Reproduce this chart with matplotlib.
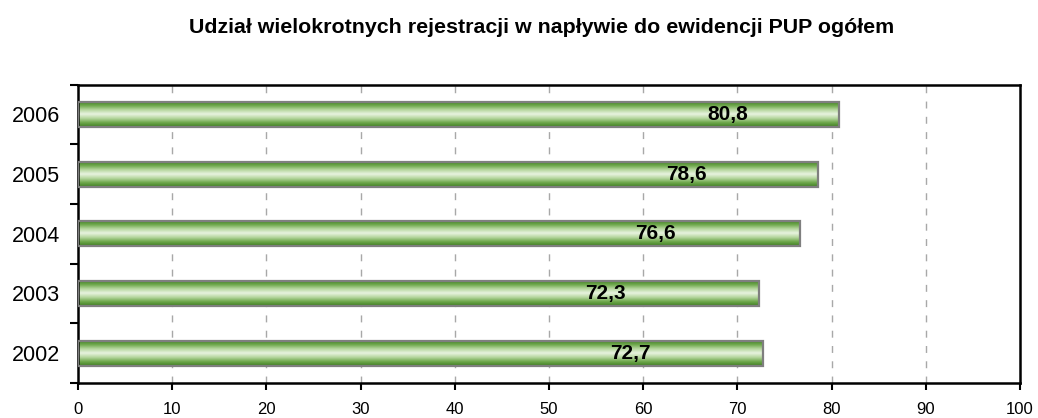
import numpy as np
import matplotlib.pyplot as plt
from matplotlib.colors import LinearSegmentedColormap
from matplotlib.patches import Rectangle

plt.rcParams['font.family'] = ['Liberation Sans', 'DejaVu Sans']

# ---- data ----
years = ['2002', '2003', '2004', '2005', '2006']
shares = [72.7, 72.3, 76.6, 78.6, 80.8]
value_labels = ['72,7', '72,3', '76,6', '78,6', '80,8']
x_ticks = [0, 10, 20, 30, 40, 50, 60, 70, 80, 90, 100]
title = 'Udział wielokrotnych rejestracji w napływie do ewidencji PUP ogółem'

# labels sit inside the bars, shifted left of the bar end (as in the original)
label_shift = [14.1, 16.3, 15.3, 14.0, 11.8]

bar_h = 0.42
green = LinearSegmentedColormap.from_list(
    'bar', ['#3f7f22', '#6fa84c', '#b5d69e', '#e9f4e1', '#b5d69e', '#6fa84c', '#3f7f22'])
grad = np.linspace(0, 1, 64).reshape(-1, 1)

fig = plt.figure(figsize=(10.38, 4.18), dpi=100)
ax = fig.add_axes([0.0751, 0.0837, 0.9076, 0.7141])

for i, (v, lab, sh) in enumerate(zip(shares, value_labels, label_shift)):
    ax.imshow(grad, cmap=green, aspect='auto', interpolation='bilinear',
              extent=[0, v, i - bar_h / 2, i + bar_h / 2], zorder=2)
    ax.add_patch(Rectangle((0, i - bar_h / 2), v, bar_h, fill=False,
                           edgecolor='#7f7f7f', linewidth=1.6, zorder=3))
    ax.text(v - sh, i, lab, ha='center', va='center', fontsize=15,
            fontweight='bold', color='black', zorder=4)

ax.set_xlim(0, 100)
ax.set_ylim(-0.5, len(years) - 0.5)

ax.set_xticks(x_ticks)
ax.set_xticklabels([str(t) for t in x_ticks], fontsize=12)
ax.set_yticks(range(len(years)))
ax.set_yticklabels(years, fontsize=15.5)
ax.set_yticks(np.arange(-0.5, len(years), 1.0), minor=True)

ax.tick_params(axis='y', which='major', length=0, pad=13)
ax.tick_params(axis='y', which='minor', length=6, width=1.5, direction='out')
ax.tick_params(axis='x', which='major', length=5, width=1.5, direction='out', pad=9)

for x in x_ticks[1:-1]:
    ax.axvline(x, color='#a8a8a8', linewidth=1.0, linestyle=(0, (5, 6)), zorder=1)

for s in ax.spines.values():
    s.set_linewidth(1.8)
    s.set_color('black')

fig.text(0.5217, 0.921, title, ha='center', va='baseline', fontsize=15.4, fontweight='bold')

fig.savefig('out.png', dpi=100)
